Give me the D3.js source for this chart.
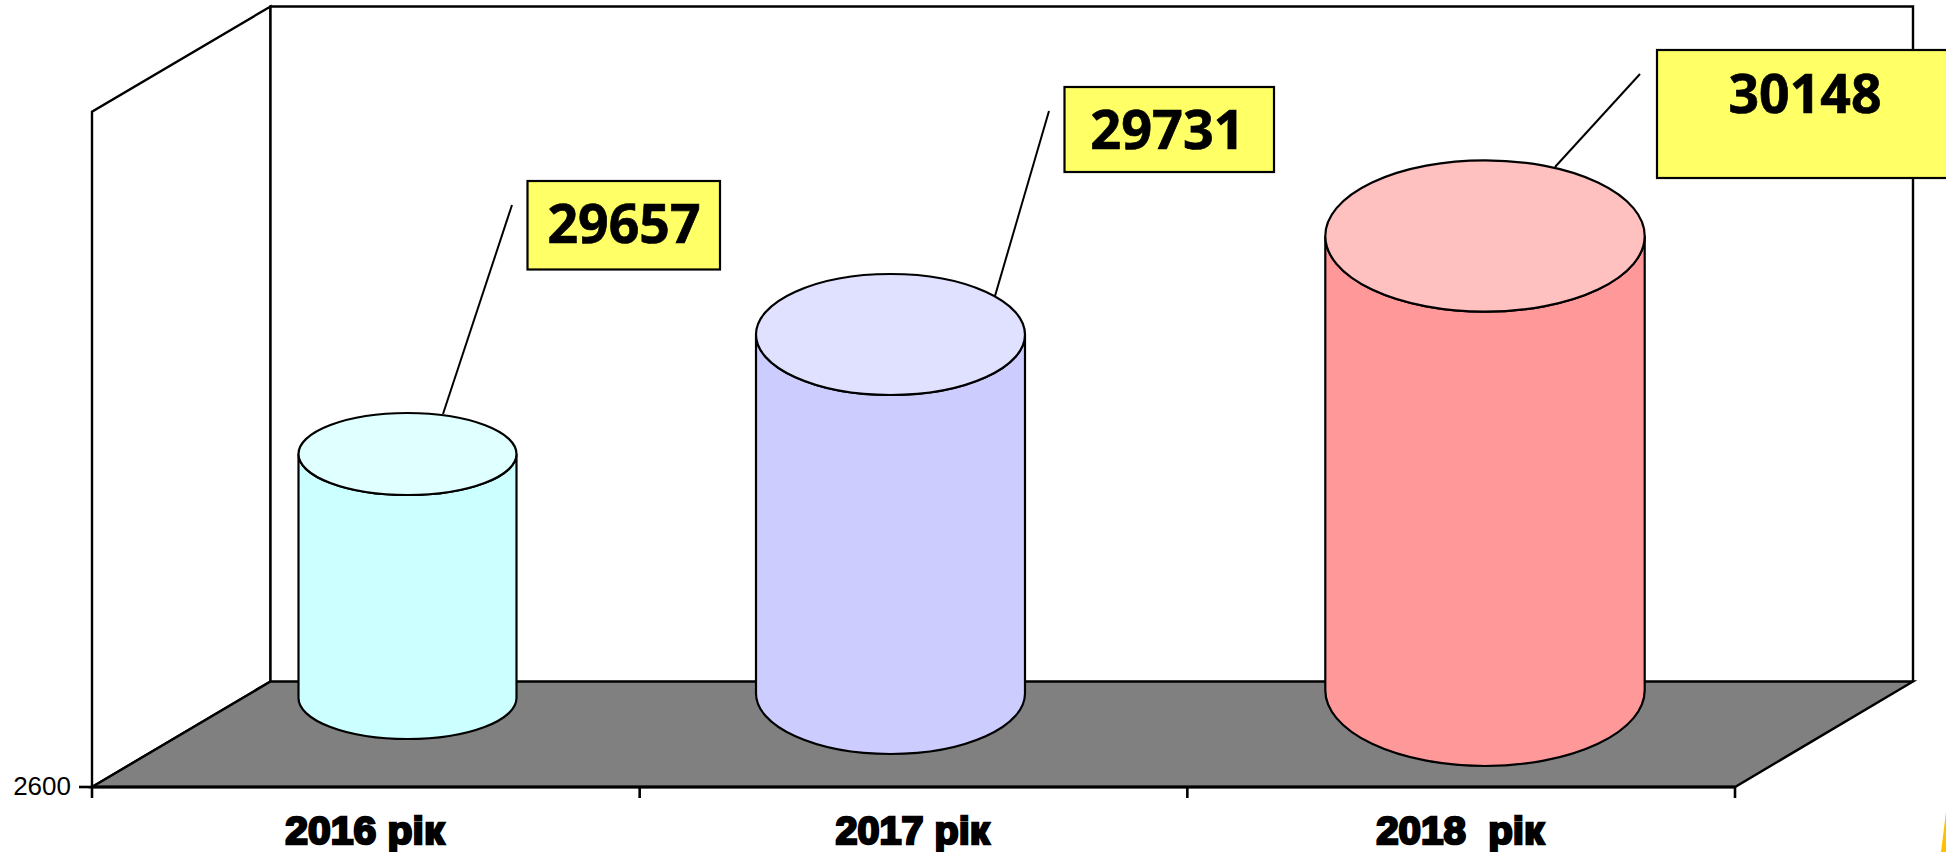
<!DOCTYPE html>
<html><head><meta charset="utf-8">
<style>html,body{margin:0;padding:0;background:#fff;overflow:hidden}svg{display:block}</style>
<script src="https://cdnjs.cloudflare.com/ajax/libs/d3/7.9.0/d3.min.js"></script>
</head><body><svg id="c" width="1946" height="852"></svg>
<script>
const categories = ["2016 рік", "2017 рік", "2018  рік"];
const values = [29657, 29731, 30148];
const sideColors = ["#CCFFFF", "#CCCCFF", "#FF9999"];
const topColors = ["#E0FFFF", "#E0E0FF", "#FFC0C0"];
const valueTicks = [2600];
const edgeTicks = [0, 1, 2, 3];

const W = 1946, H = 852;
const svg = d3.select("#c");
const front = {x0: 92, x1: 1735, y: 787}, back = {x0: 270.5, x1: 1913, y: 681.5, top: 6.5}, leftTop = 111.7;

// value axis is broken in the source chart: the scale follows its drawn cylinder tops
const y = d3.scaleLinear().domain([2600, ...values]).range([front.y, 454, 334.5, 236]);
const band = d3.scaleBand().domain(categories).range([front.x0, front.x1]);
const edges = d3.scalePoint().domain(edgeTicks).range([front.x0, front.x1 ]);
const cx = d3.scaleOrdinal(categories, [407.5, 890.5, 1485]);
const rx = d3.scaleOrdinal(categories, [109, 134.5, 159.7]);
const ry = d3.scaleOrdinal(categories, [41, 60.5, 75.7]);
const baseY = d3.scaleOrdinal(categories, [698, 693.5, 690.3]);
const boxes = d3.scaleOrdinal(categories, [
  {x: 527.5, y: 181, w: 192.5, h: 88.5, tx: 624, ty: 243, size: 53.5, lead: [512, 205, 443, 414]},
  {x: 1064.5, y: 87, w: 209.5, h: 85, tx: 1167.5, ty: 149, size: 54, lead: [1049, 111, 995, 296]},
  {x: 1657, y: 50, w: 300, h: 128, tx: 1805, ty: 113, size: 53.5, lead: [1640, 74, 1555, 167]}
]);

// walls and floor
const line = d3.line();
svg.append("path").attr("d", line([[front.x0, front.y], [front.x0, leftTop], [back.x0, back.top], [back.x0, back.y]]) + "Z")
  .attr("fill", "#fff").attr("stroke", "#000").attr("stroke-width", 2.4);
svg.append("path").attr("d", line([[back.x0, back.y], [back.x0, back.top], [back.x1, back.top], [back.x1, back.y]]))
  .attr("fill", "#fff").attr("stroke", "#000").attr("stroke-width", 2.4);
svg.append("path").attr("d", line([[front.x0, front.y], [back.x0, back.y], [back.x1, back.y], [front.x1, front.y]]) + "Z")
  .attr("fill", "#808080").attr("stroke", "#000").attr("stroke-width", 2.4);

// value axis
const ya = svg.append("g").attr("transform", `translate(${front.x0},0)`)
  .call(d3.axisLeft(y).offset(0).tickValues(valueTicks).tickSize(13).tickPadding(8).tickFormat(d3.format("d")));
ya.select(".domain").remove();
ya.selectAll("line").attr("stroke", "#000").attr("stroke-width", 2.6);
ya.selectAll("text").attr("font-family", "Liberation Sans, Arial, sans-serif").attr("font-size", 26).attr("fill", "#000");

// category axis
const xa = svg.append("g").attr("transform", `translate(0,${front.y})`)
  .call(d3.axisBottom(edges).offset(0).tickSizeInner(11).tickSizeOuter(0).tickFormat(""));
xa.select(".domain").attr("stroke", "#000").attr("stroke-width", 3);
xa.selectAll("line").attr("stroke", "#000").attr("stroke-width", 2.6);

const xl = svg.append("g").attr("transform", `translate(-1,${front.y})`)
  .call(d3.axisBottom(band).tickSize(0).tickPadding(0));
xl.select(".domain").remove();
xl.selectAll("text")
  .attr("y", 56.5).attr("dy", 0)
  .attr("font-family", "'Liberation Sans Narrow', 'Liberation Sans', sans-serif")
  .attr("font-weight", 700).attr("font-size", 39)
  .attr("fill", "#000").attr("stroke", "#000").attr("stroke-width", 2.5)
  .attr("textLength", (d, i) => [159, 154, 168][i]).attr("lengthAdjust", "spacingAndGlyphs")
  .style("white-space", "pre");

// cylinders
const cyl = svg.append("g").selectAll("g").data(categories).join("g");
const side = (c, v) => {
  const a = rx(c), b = ry(c), L = cx(c) - a, R = cx(c) + a, t = y(v), m = baseY(c);
  return `M${L},${t}L${L},${m}A${a},${b} 0 0 0 ${R},${m}L${R},${t}A${a},${b} 0 0 1 ${L},${t}Z`;
};
// leaders go behind the cylinders
cyl.append("line")
  .attr("x1", c => boxes(c).lead[0]).attr("y1", c => boxes(c).lead[1])
  .attr("x2", c => boxes(c).lead[2]).attr("y2", c => boxes(c).lead[3])
  .attr("stroke", "#000").attr("stroke-width", 2);
cyl.append("path").attr("d", (c, i) => side(c, values[i]))
  .attr("fill", (c, i) => sideColors[i]).attr("stroke", "#000").attr("stroke-width", 2.2);
cyl.append("ellipse")
  .attr("cx", c => cx(c)).attr("cy", (c, i) => y(values[i]))
  .attr("rx", c => rx(c)).attr("ry", c => ry(c))
  .attr("fill", (c, i) => topColors[i]).attr("stroke", "#000").attr("stroke-width", 2.2);

// value callouts
const lab = svg.append("g").selectAll("g").data(categories).join("g");
lab.append("rect")
  .attr("x", c => boxes(c).x).attr("y", c => boxes(c).y)
  .attr("width", c => boxes(c).w).attr("height", c => boxes(c).h)
  .attr("fill", "#FFFF66").attr("stroke", "#000").attr("stroke-width", 2.2);
lab.append("text")
  .attr("x", c => boxes(c).tx).attr("y", c => boxes(c).ty)
  .attr("text-anchor", "middle").attr("font-family", "'Noto Sans', 'Open Sans', sans-serif")
  .attr("font-weight", 700).attr("font-size", c => boxes(c).size).attr("fill", "#000")
  .attr("stroke", "#000").attr("stroke-width", 0.7)
  .text((c, i) => values[i]);

// slide decoration in the corner
svg.append("path").attr("d", line([[W, 812], [W - 5, H], [W, H]]) + "Z").attr("fill", "#FFC000");
</script></body></html>
